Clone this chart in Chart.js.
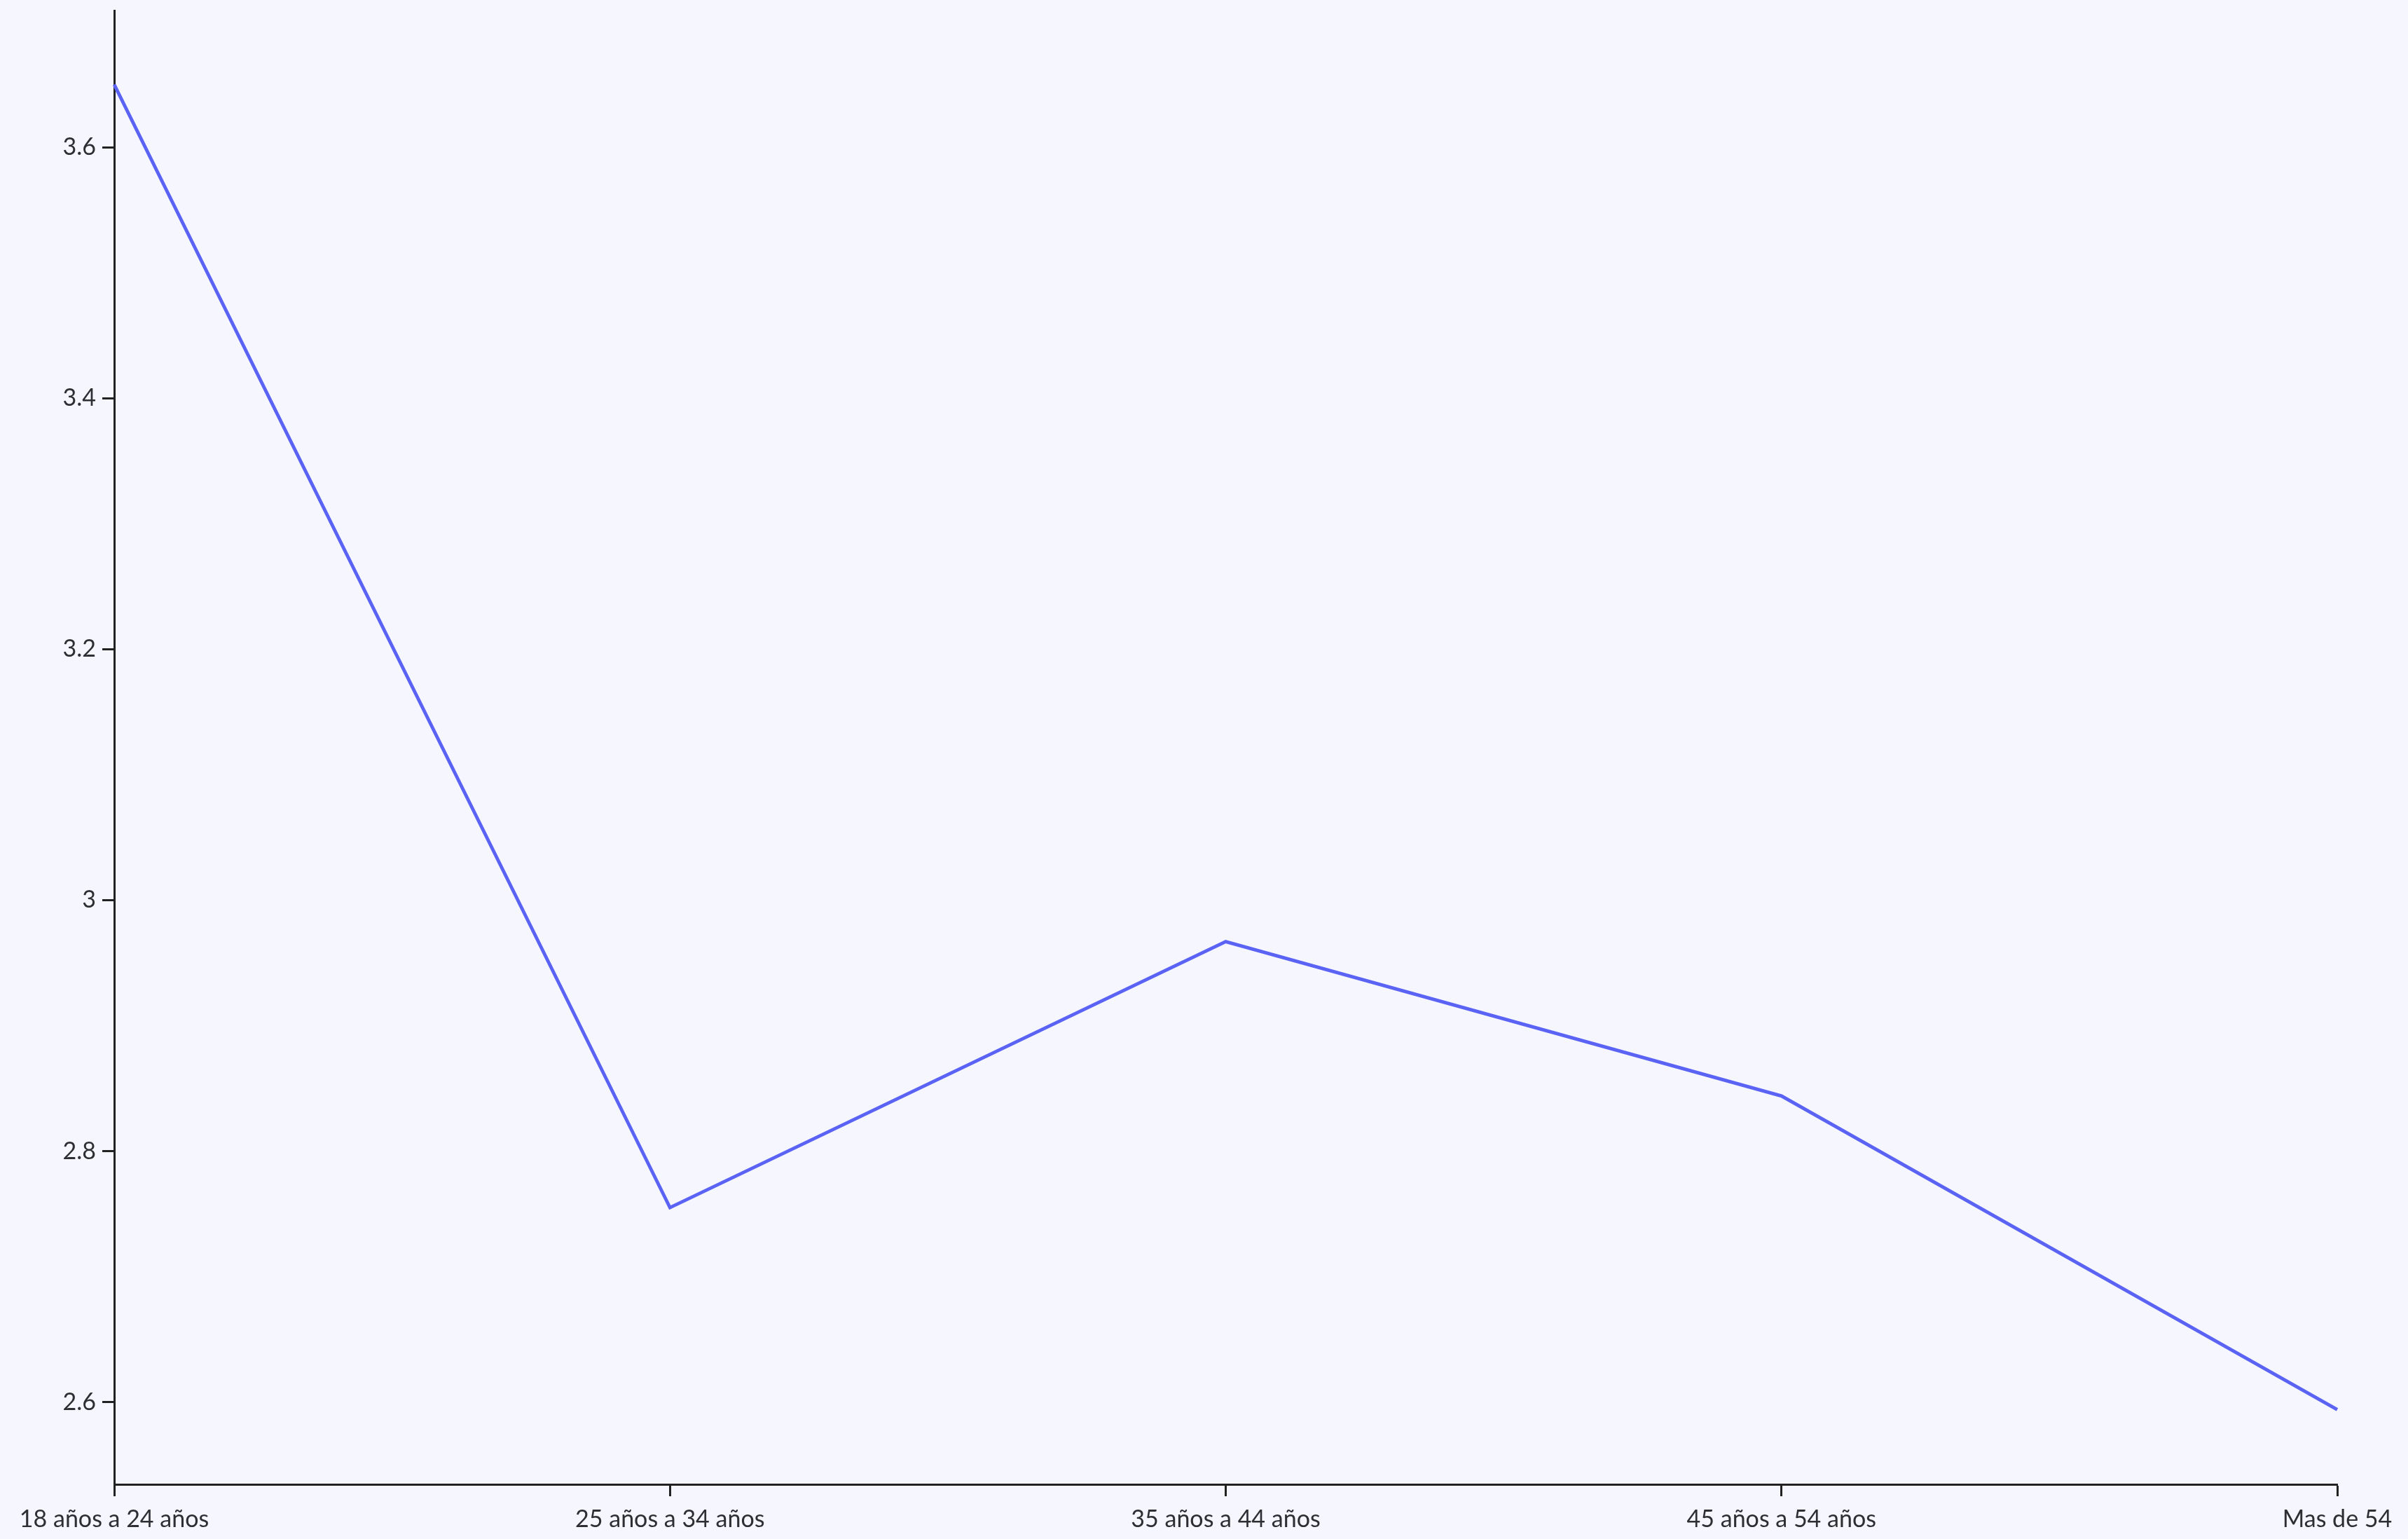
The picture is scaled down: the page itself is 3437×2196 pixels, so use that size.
<!DOCTYPE html>
<html>
<head>
<meta charset="utf-8">
<script src="https://cdn.jsdelivr.net/npm/chart.js@4"></script>
<style>
  html, body { margin: 0; padding: 0; background: #f5f6fe; }
  canvas { display: block; }
</style>
</head>
<body>
<canvas id="c" width="3437" height="2196"></canvas>
<script>
const categories = ["18 años a 24 años", "25 años a 34 años", "35 años a 44 años", "45 años a 54 años", "Mas de 54"];
const values = [3.65, 2.755, 2.967, 2.844, 2.594];
const yTicks = [2.6, 2.8, 3, 3.2, 3.4, 3.6];
const yMin = 2.5345;
const yMax = 3.709;

const axisColor = '#222222';
const textColor = '#2e2e33';
const fontSpec = { family: 'Lato', size: 34 };

new Chart(document.getElementById('c'), {
  type: 'line',
  data: {
    labels: categories,
    datasets: [{
      data: values,
      borderColor: '#5b63f5',
      borderWidth: 4.8,
      pointRadius: 0,
      tension: 0,
      fill: false
    }]
  },
  options: {
    responsive: false,
    animation: false,
    layout: { padding: { left: 0, top: 15, right: 101, bottom: 0 } },
    plugins: { legend: { display: false }, tooltip: { enabled: false } },
    scales: {
      x: {
        offset: false,
        grid: { display: true, drawOnChartArea: false, drawTicks: true, tickLength: 17, tickWidth: 3, tickColor: axisColor },
        border: { display: true, color: axisColor, width: 3 },
        ticks: { color: textColor, font: fontSpec, padding: 13, maxRotation: 0, autoSkip: false },
        afterFit: (s) => { s.height = 78; s.paddingLeft = 0; s.paddingRight = 0; }
      },
      y: {
        min: yMin,
        max: yMax,
        grid: { display: true, drawOnChartArea: false, drawTicks: true, tickLength: 17, tickWidth: 3, tickColor: axisColor },
        border: { display: true, color: axisColor, width: 3 },
        ticks: {
          color: textColor, font: fontSpec, padding: 9, includeBounds: false,
          callback: (v) => String(+Number(v).toFixed(1))
        },
        afterBuildTicks: (s) => { s.ticks = yTicks.map(v => ({ value: v })); },
        afterFit: (s) => { s.width = 163; s.paddingTop = 0; s.paddingBottom = 0; }
      }
    }
  }
});
</script>
</body>
</html>
